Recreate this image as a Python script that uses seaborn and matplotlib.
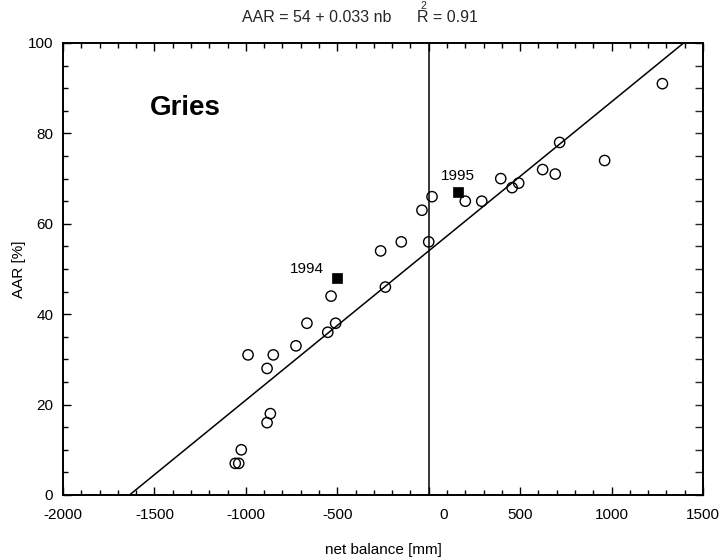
import numpy as np
import pandas as pd
import matplotlib
matplotlib.use("Agg")
import matplotlib.pyplot as plt
import matplotlib.transforms as mtransforms
from matplotlib.ticker import MultipleLocator
import seaborn as sns

# values: net balance [mm] vs AAR [%]
NB_OTHER = [-1058, -1039, -1025, -988, -884, -866, -884, -850, -726, -666,
            -552, -534, -509, -263, -237, -150, -37, 0, 18, 200,
            290, 394, 456, 492, 623, 692, 716, 962, 1278]
AAR_OTHER = [7, 7, 10, 31, 16, 18, 28, 31, 33, 38,
             36, 44, 38, 54, 46, 56, 63, 56, 66, 65,
             65, 70, 68, 69, 72, 71, 78, 74, 91]
YEARS = ["1994", "1995"]
NB_YEARS = [-501, 162]
AAR_YEARS = [48, 67]

# regression given in the header
INTERCEPT = 54
SLOPE = 0.033
R2 = 0.91

XLIM = (-2000, 1500)
YLIM = (0, 100)
GLACIER = "Gries"


def main():
    sns.set_theme(style="ticks")
    plt.rcParams["font.family"] = ["Liberation Sans", "DejaVu Sans"]
    plt.rcParams["axes.unicode_minus"] = False

    fig = plt.figure(figsize=(7.23, 5.6), dpi=100)
    ax = fig.add_axes([63 / 723, 65 / 560, 640 / 723, 452 / 560])

    pts = pd.DataFrame({"nb": NB_OTHER, "aar": AAR_OTHER})
    yrs = pd.DataFrame({"nb": NB_YEARS, "aar": AAR_YEARS, "year": YEARS})
    line_x = np.array(XLIM, dtype=float)
    fit = pd.DataFrame({"nb": line_x, "aar": INTERCEPT + SLOPE * line_x})

    sns.lineplot(data=fit, x="nb", y="aar", color="black", linewidth=1.1, ax=ax)
    ax.axvline(0, color="black", linewidth=1.1)
    sns.scatterplot(data=pts, x="nb", y="aar", marker="o", s=55,
                    facecolors="none", edgecolors="black", linewidth=1.0,
                    ax=ax, zorder=3)
    sns.scatterplot(data=yrs, x="nb", y="aar", marker="s", s=42,
                    color="black", edgecolor="black", linewidth=0.5,
                    ax=ax, zorder=3)

    # year labels next to the filled squares
    offsets = {"1994": ((-9.5, 3.6), "right"), "1995": ((0, 8.4), "center")}
    for _, r in yrs.iterrows():
        off, ha = offsets[r["year"]]
        ax.annotate(r["year"], (r["nb"], r["aar"]), xytext=off,
                    textcoords="offset points", ha=ha, va="baseline",
                    fontsize=11, color="black")

    ax.text(0.136, 0.841, GLACIER, transform=ax.transAxes, fontsize=20,
            fontweight="bold", va="baseline", ha="left", color="black")

    ax.set_xlim(XLIM)
    ax.set_ylim(YLIM)
    ax.xaxis.set_major_locator(MultipleLocator(500))
    ax.xaxis.set_minor_locator(MultipleLocator(100))
    ax.yaxis.set_major_locator(MultipleLocator(20))
    ax.yaxis.set_minor_locator(MultipleLocator(5))
    ax.tick_params(which="both", direction="in", top=True, right=False,
                   colors="black", labelsize=11)
    ax.tick_params(which="major", length=6, width=1)
    ax.tick_params(which="minor", length=3.5, width=1)
    ax.tick_params(axis="x", pad=9.5)
    ax.tick_params(axis="y", pad=7)

    sec = ax.secondary_yaxis("right")
    sec.yaxis.set_major_locator(MultipleLocator(5))
    sec.tick_params(direction="in", length=6, width=1, labelright=False)

    for sp in list(ax.spines.values()) + list(sec.spines.values()):
        sp.set_linewidth(1.4)
        sp.set_color("black")

    ax.set_xlabel("net balance [mm]", fontsize=11, color="black")
    ax.set_ylabel("AAR [%]", fontsize=11, color="black")
    ax.xaxis.set_label_coords(0.5, -0.107)
    ax.yaxis.set_label_coords(-0.058, 0.5)

    # header: equation and R squared (superscript sits above the R)
    fig.text(242 / 723, 1 - 22 / 560, f"AAR = {INTERCEPT} + {SLOPE} nb",
             fontsize=11.5, ha="left", va="baseline")
    fig.text(417 / 723, 1 - 22 / 560, f"R = {R2}",
             fontsize=11.5, ha="left", va="baseline")
    fig.text(423 / 723, 1 - 9 / 560, "2", fontsize=7.5, ha="center",
             va="baseline")

    # the "0" label sits a bit right of its tick in the reference
    fig.canvas.draw()
    shift = mtransforms.ScaledTranslation(15 / 100, 0, fig.dpi_scale_trans)
    for lbl in ax.get_xticklabels():
        if lbl.get_text() == "0":
            lbl.set_transform(lbl.get_transform() + shift)

    fig.savefig("out.png", dpi=100)


if __name__ == "__main__":
    main()
